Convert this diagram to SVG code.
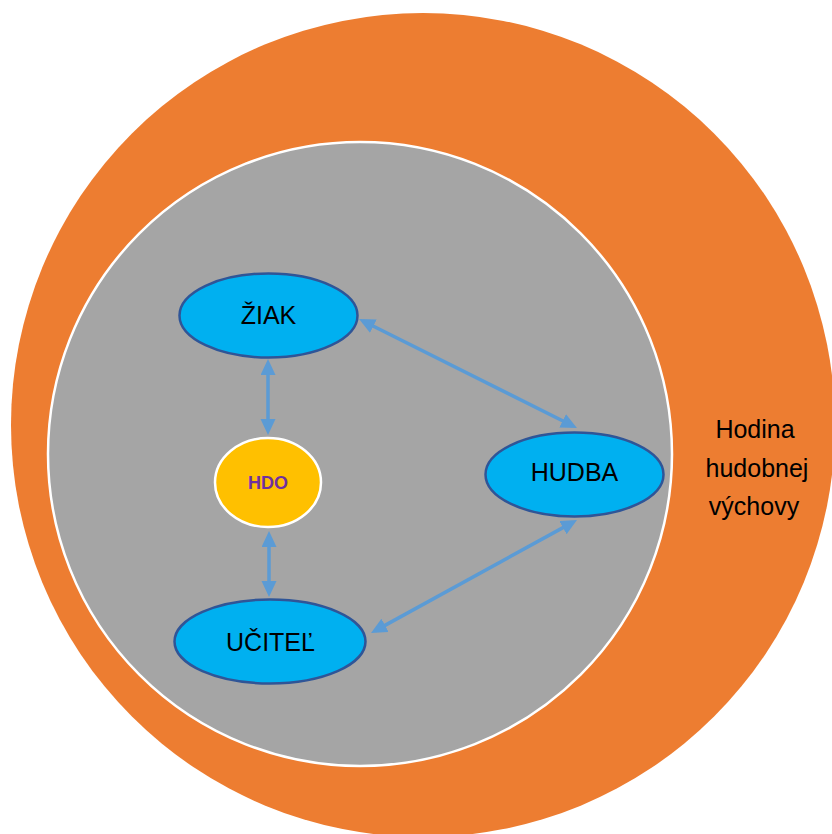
<svg xmlns="http://www.w3.org/2000/svg" width="832" height="834" viewBox="0 0 832 834">
  <style>
    .node { fill: #00B0F0; stroke: #2F5597; stroke-width: 2.5; }
    .label { font-family: "Liberation Sans", Arial, sans-serif; font-size: 25px; fill: #000; text-anchor: middle; }
    .link { stroke: #5B9BD5; stroke-width: 3.5; fill: none; marker-start: url(#head); marker-end: url(#head); }
  </style>
  <defs>
    <marker id="head" markerUnits="userSpaceOnUse" markerWidth="18" markerHeight="16" refX="11" refY="7.5" orient="auto-start-reverse">
      <path d="M0,0 L16,7.5 L0,15 z" fill="#5B9BD5"/>
    </marker>
  </defs>

  <!-- outer context: the music lesson -->
  <g id="lesson">
    <circle cx="423" cy="425" r="412" fill="#ED7D31"/>
    <text class="label" x="755" y="438">Hodina</text>
    <text class="label" x="757" y="477">hudobnej</text>
    <text class="label" x="754" y="515">výchovy</text>
  </g>

  <!-- inner area -->
  <g id="area">
    <circle cx="360" cy="454" r="312" fill="#A5A5A5" stroke="#FFFFFF" stroke-width="2.5"/>
  </g>

  <!-- connectors -->
  <g id="connectors">
    <line class="link" x1="268" y1="364" x2="268" y2="430"/>
    <line class="link" x1="269" y1="536" x2="269" y2="592"/>
    <line class="link" x1="363.5" y1="321.2" x2="572.5" y2="425.8"/>
    <line class="link" x1="572.6" y1="522.4" x2="375.4" y2="630.6"/>
  </g>

  <g id="ziak">
    <ellipse class="node" cx="268.5" cy="315.5" rx="89" ry="42"/>
    <text class="label" x="268.5" y="324">ŽIAK</text>
  </g>

  <g id="hdo">
    <ellipse cx="268" cy="482.5" rx="53" ry="44.5" fill="#FFC000" stroke="#FFFFFF" stroke-width="2.5"/>
    <text x="268" y="489" font-family="Liberation Sans, Arial, sans-serif" font-size="18" font-weight="bold" fill="#7030A0" text-anchor="middle">HDO</text>
  </g>

  <g id="hudba">
    <ellipse class="node" cx="574.5" cy="474.5" rx="89" ry="42"/>
    <text class="label" x="574.5" y="481">HUDBA</text>
  </g>

  <g id="ucitel">
    <ellipse class="node" cx="270" cy="641.5" rx="95.5" ry="42"/>
    <text class="label" x="270.5" y="651">UČITEĽ</text>
  </g>
</svg>
